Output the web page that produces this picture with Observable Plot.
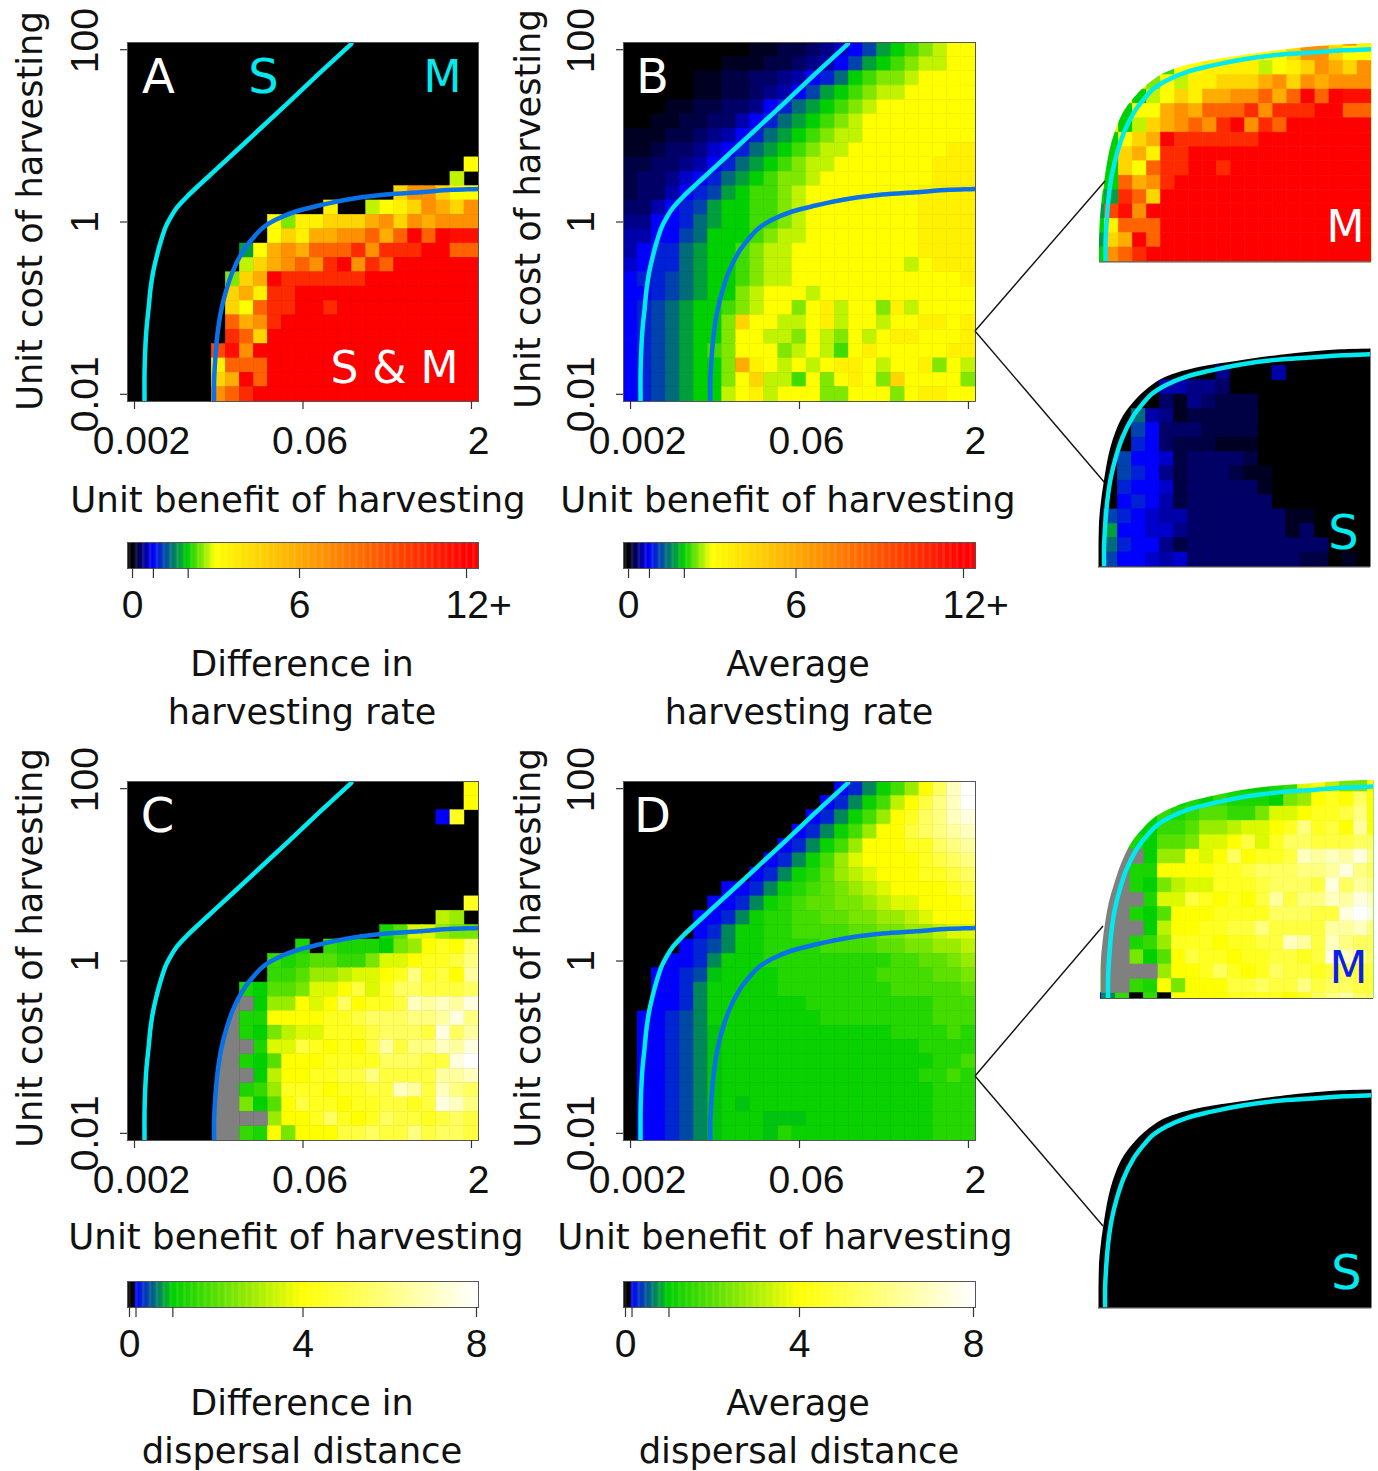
<!DOCTYPE html>
<html><head><meta charset="utf-8">
<script src="https://cdn.jsdelivr.net/npm/d3@7"></script>
<script src="https://cdn.jsdelivr.net/npm/@observablehq/plot@0.6"></script>
<style>
html,body{margin:0;padding:0;background:#fff}
#page{position:relative;width:1378px;height:1471px;overflow:hidden}
#page svg{position:absolute;overflow:visible;background:transparent;max-width:none}
.cap{position:absolute;white-space:nowrap;line-height:1;color:#111;font-family:"DejaVu Sans",sans-serif}
</style></head><body><div id="page"></div>
<script>
const blank = ".........................";
// Harvesting-rate levels (cell keys) and colour bar
const rateKeys = "abcdefghijklmnopqrstuvwxyz";
const rateValues = [.1,.2,.3,.4,.5,.6,.75,.95,1.15,1.4,1.7,2,2.25,2.5,2.75,3,3.5,4.5,5.9,6.9,7.5,8.5,9.5,10.5,11.5,12];
const rateStops = [0,.75,2,3,12];
const rateColors = ["#000000","#0000ff","#00d000","#ffff00","#ff0000"];
const rateTicks = [0,.75,2,6,12];
const rateBarDomain = [-.18,12.43];
// Dispersal-distance levels
const distKeys = "0abcdefghijklmnopqrstuv";
const distValues = [0,.15,.3,.45,.7,.9,1,1.3,1.6,2,2.4,2.8,3.2,3.6,4,4.5,5,5.5,6,6.5,7,7.5,8];
const distValuesD = [0,.15,.3,.45,.7,.95,1.12,1.42,1.8,2.1,2.4,2.8,3.2,3.6,4,4.5,5,5.5,6,6.5,7,7.5,8];
const distStops = [0,.12,.15,1,4,8];
const distColors = ["#000000","#000000","#0000ff","#00d000","#ffff00","#ffffff"];
const distTicks = [0,.15,1,4,8];
const distBarDomain = [-.046,8.046];
// Axes
const benefitTicks = [.001995,.0631,1.995];
const benefitLabels = ["0.002","0.06","2"];
const costTicks = [.01,1,100];
const costLabels = ["0.01","1","100"];
// Curves
const cyanBenefit = [.00245,.00245,.00248,.00255,.00266,.00277,.00292,.00313,.0034,.00377,.00418,.00479,.00587,.01164,.02304,.04568,.0904,.170];
const cyanCost = [.00825,.0181,.0308,.0575,.0982,.1675,.261,.39,.582,.871,1.135,1.486,1.977,4.53,10.35,23.7,54.8,117];
const blueBenefit = [.01019,.01019,.01019,.0104,.01089,.0117,.01294,.01483,.0182,.02234,.0274,.036,.0543,.0877,.1734,.344,.681,1.349,2.33,2.6];
const blueCost = [.0070,.00847,.0138,.0236,.0481,.0897,.153,.261,.446,.638,.847,1.059,1.324,1.552,1.858,2.084,2.218,2.36,2.427,2.46];
const edgeBenefit = [.00873,.00873,.00904,.00989,.01132,.0139,.01766,.0232,.0316,.0430,.0741,.157,.439,.869,2.34];
const edgeCost = [.00824,.0141,.0344,.0838,.204,.416,.650,.927,1.233,1.449,1.730,2.028,2.427,2.649,2.825];
const edge2Benefit = [.00948,.00948,.00975,.0104,.0113,.0127,.0146,.0178,.0222,.0274,.036,.0543,.0877,.1734,.344,.681,1.349,2.6];
const edge2Cost = [.0070,.0138,.0236,.0481,.0897,.153,.261,.446,.638,.847,1.059,1.324,1.552,1.858,2.084,2.218,2.36,2.46];
const grayBenefit = [.01019,.0104,.01089,.0117,.01294,.01483,.0165];
const grayCost = [.00825,.0236,.0481,.0897,.153,.261,.383];

const gridA = [blank,blank,blank,blank,blank,blank,blank,blank,
"........................p",".......................o.","...................rttrpp","..............q..opqrtsrt",
"..........pnqqrrrstrtsttt","..........prqssttvsvzvzyy","........kpstsvvvxtxxxzzvv","........orstvtxztxvzzzzzz",
".......nrszxxxxxxzzzzzzzz",".......rsqxxzzzzzzzzzzzzz",".......rpvxxzzxzzzzzzzzzz",".......vstxzzzzzzzzzzzzzz",
".......xvrzzzzzzzzzzzzzzz","......wytzzzzzzzzzzzzzzzz","......qvvvzzzzzzzzzzzzzzz","......rszvzzzzzzzzzzzzzzz","......tvxzzzzzzzzzzzzzzzz"];
const gridB = [".........aabbcdfgiklmnopp",".......aaabbcdegiklmnoopp",".....aabbccdeghjlmnnopppp",".....aabbcdegiklmnooppppp",
"...aabbccdghjklmnoppppppp","..aabbcceghjklmnopppppppp","aaabbcdeghjklmnoopppppppp","aabccdfghjklmnoopppppppqq",
"bbccdeghjklmnoopppppppqqq","bccdfghjklmnnoppppppppqqq","bcceghiklmmnoppppppppqqqq","cceghikllmmnoppppppppqqqq",
"ddgghjkllmmnoppppppppqqqq","eeggijlllmnooppppppppqqqq","eghhjkllmnoopppppppppqqqq","fghhjkllmnooppppppppopqqq",
"ghhijkllmnooppppppppppppq","gghijkllnopppoppppppppppp","ghijkllmnoppnpqoppnqopppp","ghijkllnrppoopqoppoppqqpq",
"ghijkllnppoonponpopqqpppq","ghijklmnpppnopompqpppppqq","ghijkllnsqpopopqqpoppqnpo","ghijkllnproompnpqpnrppppn","ghijkllopqopppnnpppnpqqpp"];
const gridC = ["........................n","........................n","......................ao.",blank,blank,blank,blank,blank,
"........................o","......................lk.","..................gimmkjj","............g.hgggfjknonq",
"..........hghiihhjmmnoopr","..........hhikklmmnoropns","........gfiijmmnpmoqqpppq","........#fkknmnqnooptstsu",
"........ggnnnnoopqqqrrsur","........gfjlmmooopqqqpuqs","........#gmmpononpsprrtsu","........gfinnnooooqqqppuv",
"........#flnnoopprppppsst","........ghkooonoopptsptrq","........jfinpoonooppoputr","........##knnoqonoqppopqp","........hgnjnnnppqpprpqqp"];
const gridD = ["...............abdfhknqtv","..............abdfhlnprtv",".............abdfhknoqrtu","............abdfhknnpqrst",
"...........abdfhknnnooqrs","..........abdfhkmnnnnopqr",".........abdfgiklmnnnoopq",".......aabdfghijklmnnnnop",
"......aabdfghiijjklmmnnno",".....aabdfgghhiijjkklmnnn",".....abdffgghhhhiijjkklmm","....abcdffgggghhhhiijjkkl",
"...aabdfffggggggggghhiijk","..aabceffffggggggghhhhiij","..aabdfffffgggggggghhhhhi","..aabdfffffffggggggggghhh",
".aabcdffffffffgggggggghhh",".aabcdeffffffffffffgggghg",".aabcdeffffffffffffffgggg",".aabcdefffffffffffffffggh",
".aabcdeffffffffffffffgghg",".aabcdefffffffffffffffggg",".aabcdefefffffffffffffggg",".aabcdefffeeefffffffffggg",".aabcdefffegffffffffffggg"];
// Insets
const gridM1 = [blank,blank,blank,blank,blank,blank,blank,blank,blank,
"..............ppppprrqqtq","...........pppppppprttrpp","..........mppqqqqopqrtsrt",".........npoqqrrrstrtsttt",
"........loprqssttvsvzvzyy",".......lppstsvvvxtxxxzzvv",".......lorstvtxztxvzzzzzz","......lprszxxxxxxzzzzzzzz",
"......lrsqxxzzzzzzzzzzzzz","......lrpvxxzzxzzzzzzzzzz","......lvstxzzzzzzzzzzzzzz",".....lkxvrzzzzzzzzzzzzzzz",
".....kwytzzzzzzzzzzzzzzzz",".....lqvvvzzzzzzzzzzzzzzz",".....krszvzzzzzzzzzzzzzzz",".....ltvxzzzzzzzzzzzzzzzz"];
const gridS1 = [blank,blank,blank,blank,blank,blank,blank,blank,blank,blank,blank,
"..............d...e......","..........eeddc..........","..........cadcbbb........","........jedabbbbb........",
"........igcccbbbb........","........hgcbbbaaa........",".......iggfbccccb........",".......ihgdbcccbaa.......",
".......hggfbccccca.......",".......ghgebcccccc.......","......ihgfeecccccccaa....","......kggffdcccccccac....","......jhggdbcccccccccc...","......iggfefccccccccbb.a."];
const gridM2 = [blank,blank,blank,blank,blank,blank,blank,blank,blank,blank,
".........fffffffffghmnljjn","..........ffgfhgggfjknonqn",".........fhghiihhjmmnooprn","........ffhhikklmmnoropnsn",
".......fgfiijmmnpmoqqpppqq","......f##fkknmnqnooptstsur","......##ggnnnnoopqqqrrsurq","......##gfjlmmooopqqqpuqsr",
"......###gmmpononpsprrtsut","......##gfinnnooooqqqppuvu","......###flnnoopprppppsstr","......##ghkooonoopptsptrqq",
"......##jfinpoonooppoputrq","......####knnoqonoqppopqpp","......##hgnjnnnppqpprpqqpp",".....adh0h0nnnnoooonoqrsqq"];

const page = document.getElementById("page");
const F_TICK = '"Liberation Sans",Arial,sans-serif', F_TEXT = '"DejaVu Sans",sans-serif';
const TICK = 39, LETTER = 48, LETTER_M = 44, LINE = 4.5;
const CYAN = "#00eaf0", BLUE = "#0a72e8", GRAY = "#808080";
const join = (a,b) => a.map((v,i) => ({b:v,c:b[i]}));
const cyan = join(cyanBenefit,cyanCost), blue = join(blueBenefit,blueCost), edge = join(edgeBenefit,edgeCost), edge2 = join(edge2Benefit,edge2Cost), gray = join(grayBenefit,grayCost);
const colX = c => 10 ** (-2.7 + .125*c), rowY = r => 10 ** (2 - r/6);

function cells(rows, keys, values){
  const out = [];
  rows.forEach((row,r) => [...row].forEach((k,c) => {
    if (k === ".") return;
    const i = keys.indexOf(k);
    out.push({x1:colX(c-.5),x2:colX(c+.5),y1:rowY(r+.5),y2:rowY(r-.5),v:k==="#"?null:values[i]});
  }));
  return out;
}
const colorOf = (stops,colors) => ({type:"linear",domain:stops,range:colors,interpolate:"rgb",clamp:true});
function place(svg,left,top){svg.style.left=left+"px";svg.style.top=top+"px";page.appendChild(svg);}
const M = {l:75,r:25,t:35,b:60};
const rectCh = {x1:"x1",x2:"x2",y1:"y1",y2:"y2"};
const cellMarks = (all,clip) => [
  Plot.rect(all.filter(d=>d.v!==null),{...rectCh,fill:"v",stroke:"v",strokeWidth:.5,clip}),
  Plot.rect(all.filter(d=>d.v===null),{...rectCh,fill:GRAY,stroke:GRAY,strokeWidth:.5,clip})];

function label([text,cx,cy,color,size],o){
  return Plot.text([text],{frameAnchor:"top-left",dx:cx-o.left,dy:cy-o.top,fill:color,fontSize:size||LETTER,fontFamily:F_TEXT,textAnchor:"middle",lineAnchor:"middle"});
}
function panel(o){
  const W=o.right-o.left,H=o.bottom-o.top,all=cells(o.rows,o.keys,o.values);
  const marks=[Plot.frame({fill:"#000000"})];
  if(o.grayArea) marks.push(Plot.areaX(gray,{x1:"b",x2:()=>colX(7.5),y:"c",fill:GRAY,curve:"catmull-rom"}));
  marks.push(...cellMarks(all,true));
  marks.push(Plot.line(blue,{x:"b",y:"c",stroke:BLUE,strokeWidth:LINE,curve:"catmull-rom",clip:true}));
  marks.push(Plot.line(cyan,{x:"b",y:"c",stroke:CYAN,strokeWidth:LINE,curve:"catmull-rom",clip:true}));
  marks.push(Plot.frame({stroke:"#555",strokeWidth:1}));
  marks.push(Plot.axisX({ticks:benefitTicks,tickFormat:()=>"",tickSize:8,stroke:"#333",strokeWidth:1.2,fill:"none",label:null}));
  marks.push(Plot.text(benefitTicks,{x:d=>d,text:(d,i)=>benefitLabels[i],frameAnchor:"bottom",lineAnchor:"top",dy:25,dx:7,fontSize:TICK,fontFamily:F_TICK,fill:"#111"}));
  marks.push(Plot.axisY({ticks:costTicks,tickFormat:()=>"",tickSize:7,stroke:"#333",strokeWidth:1.2,fill:"none",label:null}));
  marks.push(Plot.axisY({ticks:[.01,1],tickFormat:d=>costLabels[costTicks.indexOf(d)],tickSize:0,tickPadding:42,tickRotate:-90,textAnchor:"middle",lineAnchor:"middle",fontSize:TICK,fontFamily:F_TICK,fill:"#111",label:null}));
  marks.push(Plot.axisY({ticks:[100],tickFormat:d=>costLabels[costTicks.indexOf(d)],tickSize:0,tickPadding:42,tickRotate:-90,textAnchor:"middle",lineAnchor:"middle",fontSize:TICK,fontFamily:F_TICK,fill:"#111",dy:-9,label:null}));
  o.labels.forEach(l=>marks.push(label(l,o)));
  const p=Plot.plot({width:W+M.l+M.r,height:H+M.t+M.b,marginLeft:M.l,marginRight:M.r,marginTop:M.t,marginBottom:M.b,
    x:{type:"log",domain:[colX(-.5),colX(24.5)],axis:null},y:{type:"log",domain:[rowY(24.5),rowY(-.5)],axis:null},
    color:colorOf(o.stops,o.colors),marks});
  place(p,o.left-M.l,o.top-M.t);
}
function inset(o){
  const W=o.right-o.left,H=o.bottom-o.top,all=o.rows?cells(o.rows,o.keys,o.values):[];
  const marks=[Plot.frame({fill:o.bg})];
  marks.push(...cellMarks(all,"frame"));
  marks.push(Plot.areaY(o.mask,{x:"b",y1:"c",y2:()=>o.yd[1],fill:"#ffffff",curve:"catmull-rom"}));
  marks.push(Plot.line(blue,{x:"b",y:"c",stroke:CYAN,strokeWidth:LINE,curve:"catmull-rom",dx:o.lineDx||0,dy:o.lineDy||0,clip:true}));
  marks.push(Plot.ruleY([o.yd[0]],{stroke:"#555",strokeWidth:1.2}));
  marks.push(label(o.letter,o));
  const p=Plot.plot({width:W+2,height:H+2,marginLeft:0,marginRight:2,marginTop:0,marginBottom:2,
    x:{type:"log",domain:o.xd,axis:null},y:{type:"log",domain:o.yd,axis:null},
    color:colorOf(o.stops,o.colors),marks});
  place(p,o.left,o.top);
}
function bar(o){
  const [a,b]=o.domain, n=300, steps=d3.range(n).map(i=>({x1:a+(b-a)*i/n,x2:Math.min(b,a+(b-a)*(i+1.3)/n),v:a+(b-a)*(i+.5)/n}));
  const marks=[Plot.rect(steps,{x1:"x1",x2:"x2",y1:()=>0,y2:()=>1,fill:"v"}),
    Plot.frame({stroke:"#555",strokeWidth:1}),
    Plot.axisX({ticks:o.ticks,tickFormat:()=>"",tickSize:10,stroke:"#333",strokeWidth:1.2,fill:"none",label:null}),
    Plot.text(o.labelTicks,{x:d=>d,text:d=>String(d),frameAnchor:"bottom",lineAnchor:"top",dy:22,fontSize:TICK,fontFamily:F_TICK,fill:"#111"})];
  if(o.plus!==undefined) marks.push(Plot.text([o.plus],{x:d=>d,text:d=>d+"+",frameAnchor:"bottom",lineAnchor:"top",dy:22,dx:-21,textAnchor:"start",fontSize:TICK,fontFamily:F_TICK,fill:"#111"}));
  const p=Plot.plot({width:o.right-o.left+40,height:o.bottom-o.top+60,marginLeft:20,marginRight:20,marginTop:0,marginBottom:60,
    x:{domain:o.domain,axis:null},y:{domain:[0,1],axis:null},color:colorOf(o.stops,o.colors),marks});
  place(p,o.left-20,o.top);
}
function cap(text,cx,cy,size,rot){
  const d=document.createElement("div");d.className="cap";d.textContent=text;
  d.style.left=cx+"px";d.style.top=cy+"px";d.style.fontSize=size+"px";d.style.transform=`translate(-50%,-50%)${rot?" rotate(-90deg)":""}`;
  page.appendChild(d);
}
const rate={keys:rateKeys,values:rateValues,stops:rateStops,colors:rateColors};
const dist={keys:distKeys,values:distValues,stops:distStops,colors:distColors};
panel({...rate,rows:gridA,left:127,right:478,top:42,bottom:401,labels:[["A",158,77,"#fff"],["S",263,77,CYAN],["M",442,77,CYAN,LETTER_M],["S & M",394,368,"#fff",LETTER_M]]});
panel({...rate,rows:gridB,left:623,right:975,top:42,bottom:401,labels:[["B",652,77,"#fff"]]});
panel({...dist,rows:gridC,left:127,right:478,top:781,bottom:1140,grayArea:true,labels:[["C",157,816,"#fff"]]});
panel({...dist,values:distValuesD,rows:gridD,left:623,right:975,top:781,bottom:1140,labels:[["D",652,816,"#fff"]]});

const xdM=[.00873,2.30],ydM=[.00824,2.825];
inset({...rate,rows:gridM1,bg:"#f8f000",left:1099,right:1371,top:43.3,bottom:261.7,xd:xdM,yd:ydM,mask:edge,lineDx:-1.5,letter:["M",1345,228,"#fff",LETTER_M]});
inset({...rate,rows:gridS1,bg:"#000",left:1098,right:1370,top:348.3,bottom:566.7,xd:xdM,yd:ydM,mask:edge,lineDx:-2,letter:["S",1343,533,CYAN]});
inset({...dist,rows:gridM2,bg:"#20d800",left:1100,right:1373,top:780,bottom:998,xd:[.00948,2.58],yd:[.00716,2.43],mask:edge2,lineDx:4,lineDy:6,letter:["M",1348,968,"#0a20e8",LETTER_M]});
inset({...dist,bg:"#000",left:1098,right:1371,top:1089.3,bottom:1307.7,xd:xdM,yd:ydM,mask:edge,lineDx:-1,letter:["S",1346,1273,CYAN]});

bar({...rate,domain:rateBarDomain,ticks:rateTicks,labelTicks:[0,6],plus:12,left:127,right:478,top:542,bottom:568});
bar({...rate,domain:rateBarDomain,ticks:rateTicks,labelTicks:[0,6],plus:12,left:623,right:975,top:542,bottom:568});
bar({...dist,domain:distBarDomain,ticks:distTicks,labelTicks:[0,4,8],left:127,right:478,top:1281,bottom:1307});
bar({...dist,domain:distBarDomain,ticks:distTicks,labelTicks:[0,4,8],left:623,right:975,top:1281,bottom:1307});

const UNIT=35.6,TITLE=35;
[["Unit benefit of harvesting",298,500,UNIT],["Unit benefit of harvesting",788,500,UNIT],["Unit benefit of harvesting",296,1237,UNIT],["Unit benefit of harvesting",785,1237,UNIT],
 ["Difference in",302,664,TITLE],["harvesting rate",302,712,TITLE],["Average",798,664,TITLE],["harvesting rate",799,712,TITLE],
 ["Difference in",302,1403,TITLE],["dispersal distance",302,1451,TITLE+.4],["Average",798,1403,TITLE],["dispersal distance",799,1451,TITLE+.4]].forEach(a=>cap(...a));
[[30,211],[528,209],[30,948],[528,948]].forEach(([x,y])=>cap("Unit cost of harvesting",x,y,UNIT-.4,true));

// leader lines from panels to insets
const leaders=d3.create("svg").attr("width",1378).attr("height",1471).style("left","0").style("top","0").style("pointer-events","none");
[[975,331,1105,181],[975,331,1105,483],[975,1076,1103,926],[975,1076,1103,1226]].forEach(([a,b,c,d])=>
  leaders.append("line").attr("x1",a).attr("y1",b).attr("x2",c).attr("y2",d).attr("stroke","#111").attr("stroke-width",1.4));
page.appendChild(leaders.node());
</script></body></html>
